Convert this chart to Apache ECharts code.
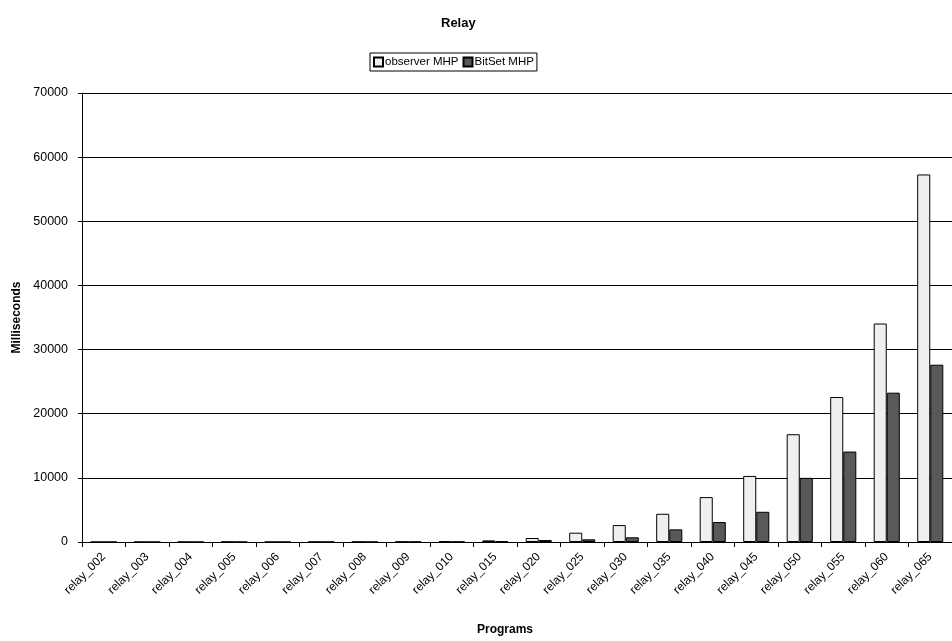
<!DOCTYPE html>
<html>
<head>
<meta charset="utf-8">
<script src="https://cdn.jsdelivr.net/npm/echarts@6/dist/echarts.min.js"></script>
<style>html,body{margin:0;padding:0;background:#fff;}#c{width:952px;height:641px;}</style>
</head>
<body>
<div id="c"></div>
<script>
const categories = ['relay_002','relay_003','relay_004','relay_005','relay_006','relay_007','relay_008','relay_009','relay_010','relay_015','relay_020','relay_025','relay_030','relay_035','relay_040','relay_045','relay_050','relay_055','relay_060','relay_065'];
const observerMHP = [3, 6, 10, 40, 15, 40, 40, 60, 100, 250, 620, 1450, 2640, 4400, 7000, 10300, 16800, 22600, 34060, 57300];
const bitsetMHP   = [1, 2, 4, 15, 6, 15, 15, 30, 50, 120, 300, 420, 730, 1970, 3110, 4710, 10000, 14100, 23280, 27640];
const yTicks = { min: 0, max: 70000, interval: 10000 };

const chart = echarts.init(document.getElementById('c'), null, { renderer: 'canvas' });
const font = 'Liberation Sans, Arial, sans-serif';
chart.setOption({
  animation: false,
  backgroundColor: '#ffffff',
  title: {
    text: 'Relay',
    left: 436, top: 12,
    textStyle: { fontFamily: font, fontSize: 13, fontWeight: 'bold', color: '#000' }
  },
  legend: {
    left: 370, top: 53,
    padding: [3, 3, 3, 3],
    borderColor: '#000', borderWidth: 1,
    itemWidth: 9, itemHeight: 9, itemGap: 4,
    icon: 'rect',
    textStyle: { fontFamily: font, fontSize: 11.5, color: '#000', padding: [0, 0, 0, -3] },
    data: ['observer MHP', 'BitSet MHP']
  },
  grid: { left: 82, top: 93, width: 874, height: 450, containLabel: false },
  xAxis: {
    type: 'category',
    data: categories,
    name: 'Programs',
    nameLocation: 'middle',
    nameGap: 82,
    nameTextStyle: { fontFamily: font, fontSize: 12, fontWeight: 'bold', color: '#000', padding: [0, 24, 0, 0] },
    axisLine: { lineStyle: { color: '#000', width: 1 } },
    axisTick: { show: true, length: 5, lineStyle: { color: '#000' } },
    axisLabel: { rotate: 45, fontFamily: font, fontSize: 12, color: '#000', margin: 13, interval: 0 }
  },
  yAxis: {
    type: 'value',
    min: yTicks.min, max: yTicks.max, interval: yTicks.interval,
    name: 'Milliseconds',
    nameLocation: 'middle',
    nameGap: 59,
    nameTextStyle: { fontFamily: font, fontSize: 12, fontWeight: 'bold', color: '#000' },
    axisLine: { show: true, lineStyle: { color: '#000', width: 1 } },
    axisTick: { show: true, length: 4, lineStyle: { color: '#000' } },
    axisLabel: { fontFamily: font, fontSize: 12.5, color: '#000', margin: 14, formatter: v => String(v) },
    splitLine: { show: true, lineStyle: { color: '#000', width: 1 } }
  },
  series: [
    {
      name: 'observer MHP', type: 'bar', data: observerMHP,
      barGap: '0%', barCategoryGap: '40%',
      itemStyle: { color: '#efefef', borderColor: '#000', borderWidth: 1 }
    },
    {
      name: 'BitSet MHP', type: 'bar', data: bitsetMHP,
      itemStyle: { color: '#595959', borderColor: '#000', borderWidth: 1 }
    }
  ]
});
</script>
</body>
</html>
